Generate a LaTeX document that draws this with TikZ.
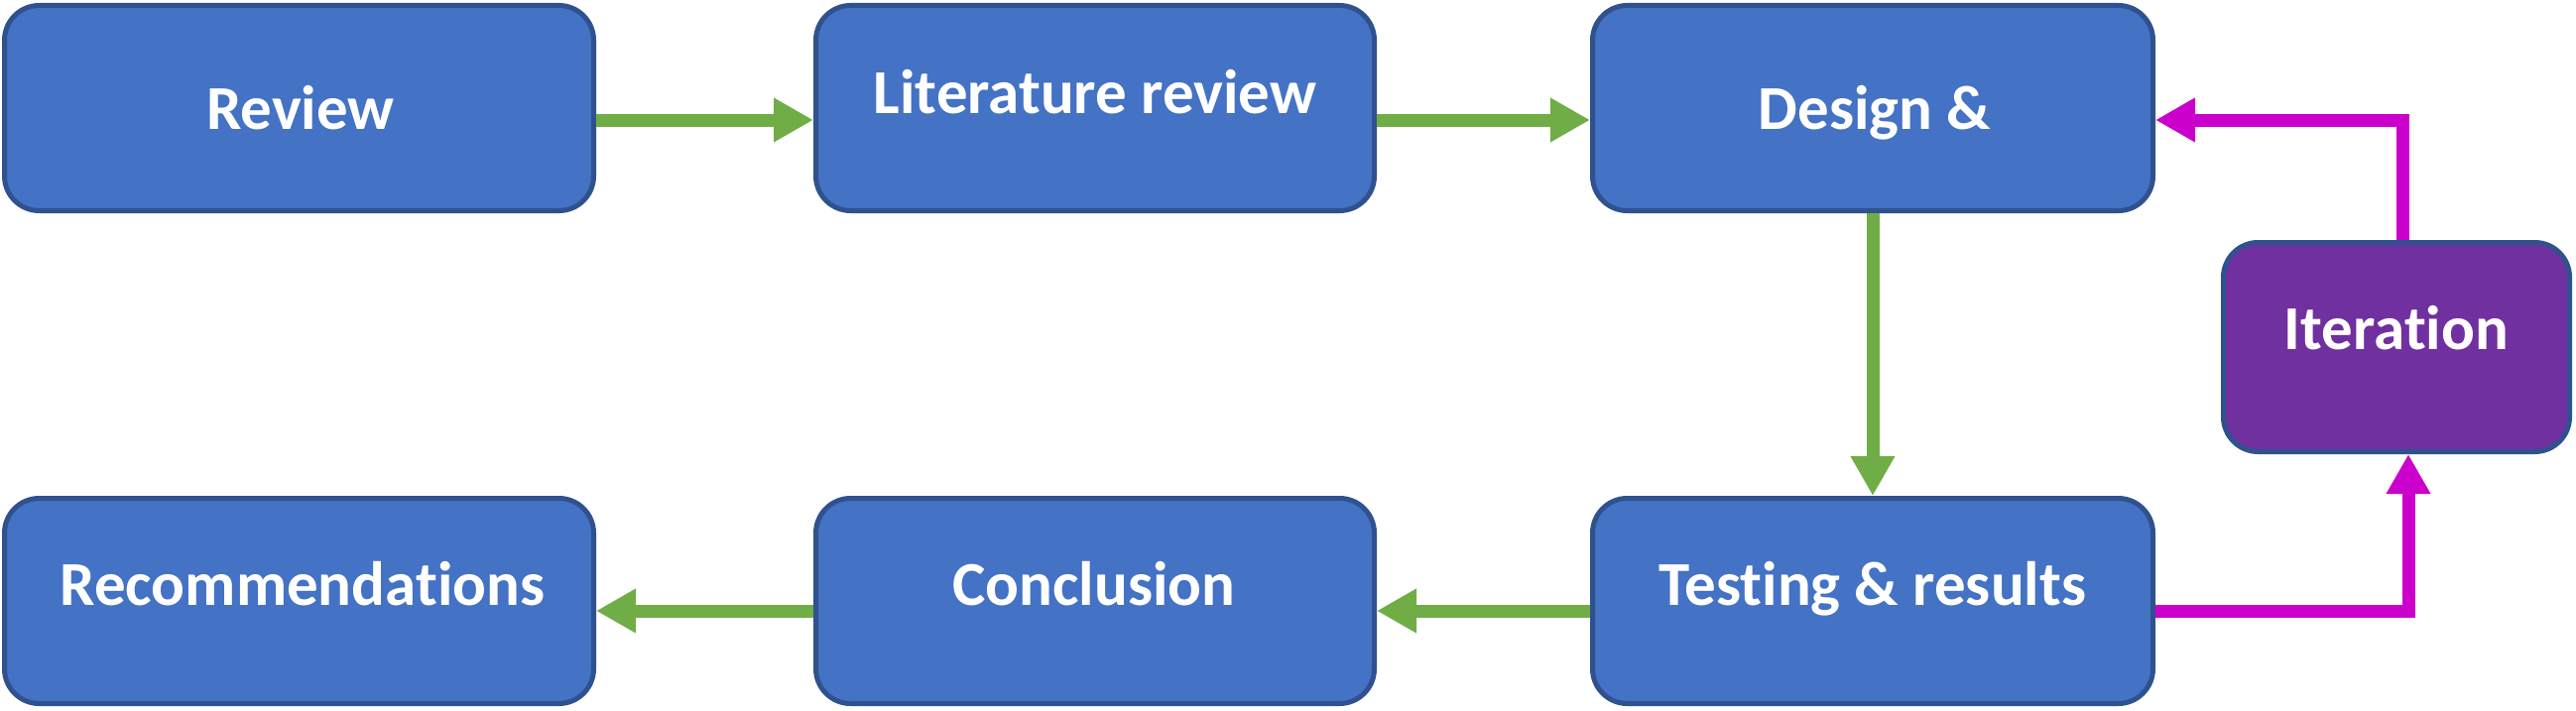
\documentclass[tikz,border=0pt]{standalone}
\usepackage{fontspec}
\setmainfont{Carlito}[Ligatures=NoCommon, RawFeature={-liga;-clig;-dlig}]
\usetikzlibrary{arrows.meta}
\definecolor{boxfill}{HTML}{4472C4}
\definecolor{boxline}{HTML}{2F528F}
\definecolor{iterfill}{HTML}{7030A0}
\definecolor{agreen}{HTML}{70AD47}
\definecolor{amag}{HTML}{CC00CC}
\tikzset{
  stepbox/.style={draw=boxline, fill=boxfill, line width=5pt, rounded corners=35pt,
    rectangle, inner sep=0pt, minimum height=207pt},
  lbl/.style={text=white, font=\bfseries\fontsize{63}{70}\selectfont, inner sep=0pt, anchor=base},
  garrow/.style={draw=agreen, line width=13pt, -{Triangle[length=40pt,width=42pt]}},
  marrow/.style={draw=amag, line width=13pt, -{Triangle[length=40pt,width=42pt]}}
}
\begin{document}
\begin{tikzpicture}[x=1pt,y=-1pt]
\useasboundingbox (0,0) rectangle (2597,717);
% boxes
\node[stepbox, minimum width=594pt] (rev) at (301.5,109) {};
\node[stepbox, minimum width=563pt] (lit) at (1104,109) {};
\node[stepbox, minimum width=565pt] (des) at (1888,109) {};
\node[stepbox, fill=iterfill, minimum width=349pt, minimum height=211pt] (iter) at (2416,350) {};
\node[stepbox, minimum width=594pt] (rec) at (301.5,606) {};
\node[stepbox, minimum width=563pt] (con) at (1104,606) {};
\node[stepbox, minimum width=565pt] (test) at (1888,606) {};
% labels
\node[lbl] (trev) at (303,130) {Review};
\node[lbl] (tlit) at (1104,114) {Literature review};
\node[lbl] (tdes) at (1890,130) {Design \&};
\node[lbl] (titer) at (2416,352) {Iteration};
\node[lbl] (trec) at (305,610) {Recommendations};
\node[lbl] (tcon) at (1103,610) {Conclusion};
\node[lbl] (ttest) at (1888,610) {Testing \& results};
% connectors
\draw[garrow] ([yshift=-12pt]rev.east) -- ([yshift=-12pt]lit.west);
\draw[garrow] ([yshift=-12pt]lit.east) -- ([yshift=-12pt]des.west);
\draw[garrow] (des.south) -- (test.north);
\draw[garrow] ([yshift=-10pt]test.west) -- ([yshift=-10pt]con.east);
\draw[garrow] ([yshift=-10pt]con.west) -- ([yshift=-10pt]rec.east);
\draw[marrow] ([yshift=-10pt]test.east) -| ([xshift=12pt]iter.south);
\draw[marrow] ([xshift=6pt]iter.north) |- ([yshift=-12pt]des.east);
\end{tikzpicture}
\end{document}
